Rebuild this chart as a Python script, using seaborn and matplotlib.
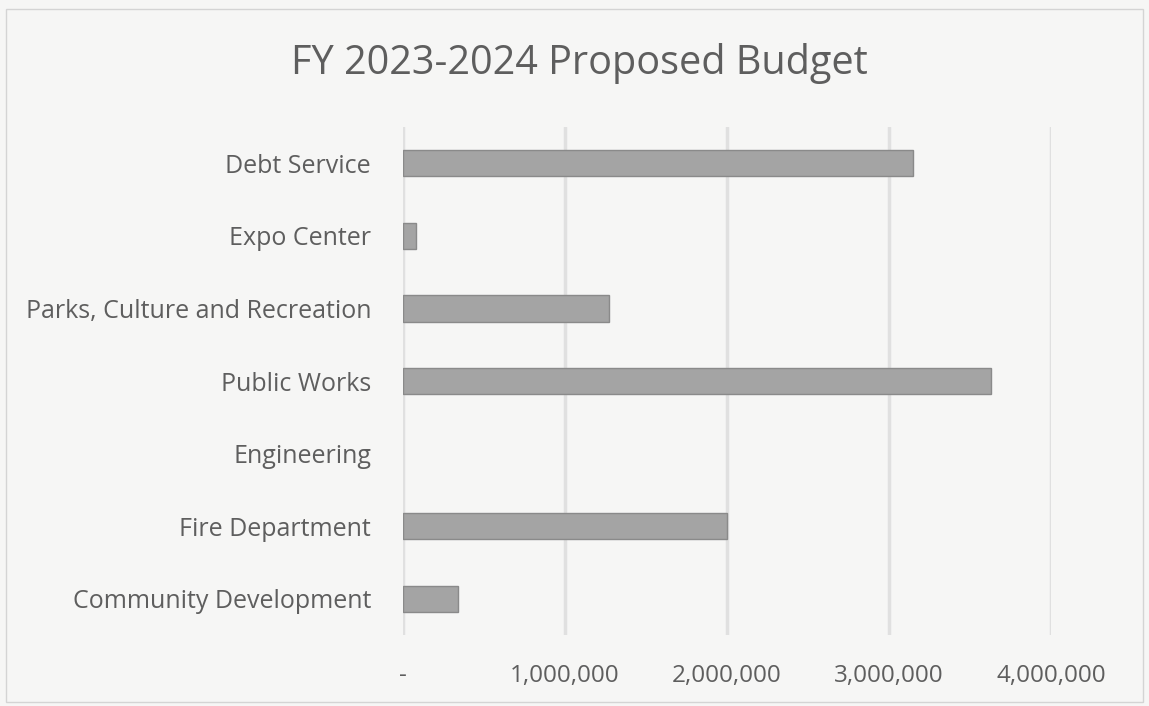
import matplotlib
matplotlib.use("Agg")
import matplotlib.pyplot as plt
from matplotlib.ticker import FuncFormatter, FixedLocator
import seaborn as sns
import pandas as pd

departments = [
    "Debt Service",
    "Expo Center",
    "Parks, Culture and Recreation",
    "Public Works",
    "Engineering",
    "Fire Department",
    "Community Development",
]
budget = [3150000, 80000, 1270000, 3630000, 0, 2000000, 340000]
x_ticks = [0, 1000000, 2000000, 3000000, 4000000]
title_text = "FY 2023-2024 Proposed Budget"

df = pd.DataFrame({"Department": departments, "Budget": budget})

sns.set_theme(style="white")
plt.rcParams["font.family"] = ["Open Sans", "DejaVu Sans"]

text_gray = "#5e5e5e"
paper = "#f6f6f5"

fig = plt.figure(figsize=(11.49, 7.06), dpi=100, facecolor=paper)
ax = fig.add_axes([0.3507, 0.1006, 0.5640, 0.7194])
ax.set_facecolor(paper)

sns.barplot(
    data=df, x="Budget", y="Department", orient="h", ax=ax,
    color="#a4a4a4", saturation=1, width=0.36,
    edgecolor="#8a8a8a", linewidth=1.0, zorder=3,
)
# a zero budget leaves no visible bar, not even an outline
for bar in ax.patches:
    if bar.get_width() == 0:
        bar.set_edgecolor("none")

ax.set_xlim(0, 4000000)
ax.xaxis.set_major_locator(FixedLocator(x_ticks))
ax.xaxis.set_major_formatter(
    FuncFormatter(lambda v, _: "-" if v == 0 else f"{v:,.0f}")
)
ax.grid(axis="x", color="#e0e0e0", linewidth=2.5, zorder=0)
ax.grid(axis="y", visible=False)
for s in ax.spines.values():
    s.set_visible(False)

ax.set_xlabel("")
ax.set_ylabel("")
ax.tick_params(axis="x", length=0, pad=21, labelsize=17.5, labelcolor=text_gray)
ax.tick_params(axis="y", length=0, pad=23, labelsize=18, labelcolor=text_gray)

fig.text(0.504, 0.91, title_text, ha="center", va="center",
         fontsize=28.5, color=text_gray)

# light frame around the chart area
frame = plt.Rectangle((0.005, 0.005), 0.99, 0.982, transform=fig.transFigure,
                      fill=False, edgecolor="#d4d4d4", linewidth=1.0)
fig.patches.append(frame)

fig.savefig("out.png", dpi=100, facecolor=paper)
